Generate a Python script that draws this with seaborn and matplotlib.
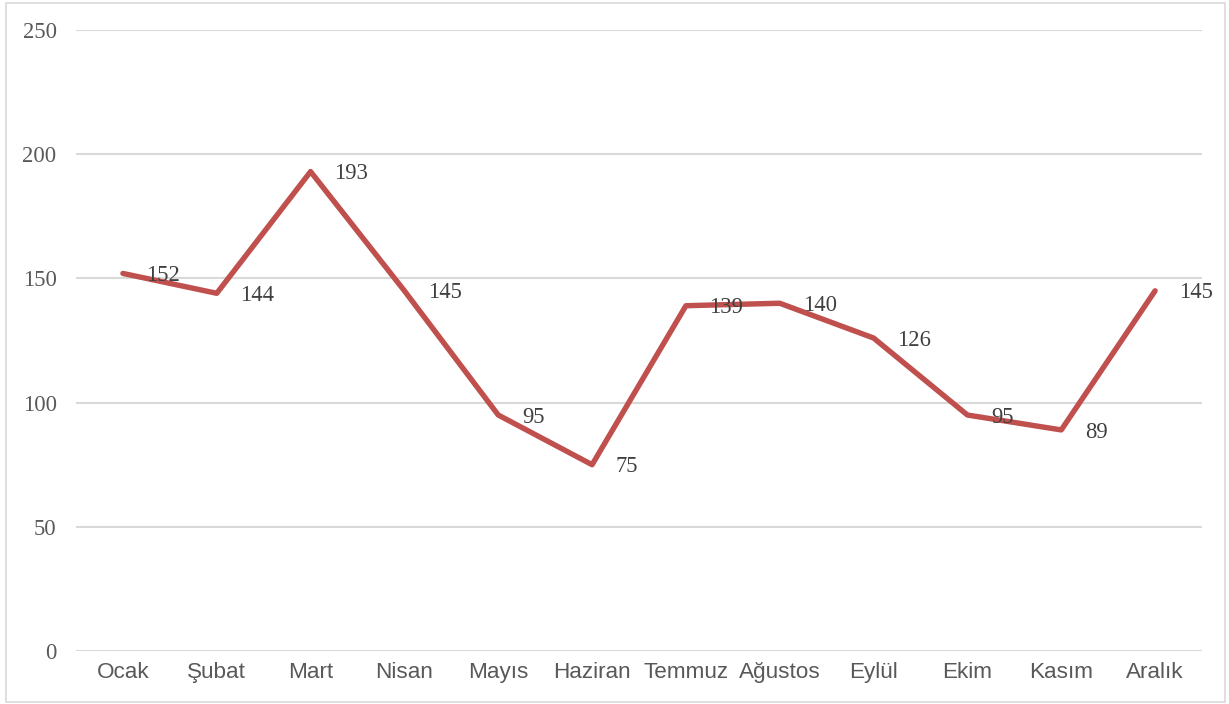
import matplotlib
matplotlib.use("Agg")
import matplotlib.pyplot as plt
import seaborn as sns
import pandas as pd
from matplotlib.patches import Rectangle

months = ['Ocak', 'Şubat', 'Mart', 'Nisan', 'Mayıs', 'Haziran',
          'Temmuz', 'Ağustos', 'Eylül', 'Ekim', 'Kasım', 'Aralık']
values = [152, 144, 193, 145, 95, 75, 139, 140, 126, 95, 89, 145]
yticks = [0, 50, 100, 150, 200, 250]

df = pd.DataFrame({'ay': months, 'deger': values})

sns.set_style("white")
plt.rcParams['font.family'] = ['Liberation Serif', 'DejaVu Serif']

fig = plt.figure(figsize=(12.29, 7.04), dpi=100)
ax = fig.add_axes([76 / 1229, 53 / 704, 1126 / 1229, 621 / 704])

ax.set_axisbelow(True)
for t in yticks:
    ax.axhline(t, color='#d9d9d9', lw=1.5, zorder=0)

sns.lineplot(data=df, x='ay', y='deger', sort=False, color='#c0504d',
             linewidth=3.9, ax=ax, zorder=3)

# data labels to the right of each point
for i, v in enumerate(values):
    ax.annotate(str(v), (i, v), xytext=(17, -1.5), textcoords='offset points',
                ha='left', va='center', fontsize=16.3, color='#404040',
                family=['Liberation Serif'], zorder=4)

ax.set_xlim(-0.5, len(months) - 0.5)
ax.set_ylim(0, 250)
ax.set_yticks(yticks)
ax.set_xticks(range(len(months)))
ax.set_xticklabels(months, family=['Liberation Sans'], fontsize=16.2, color='#595959')
ax.set_yticklabels([str(t) for t in yticks], family=['Liberation Serif'],
                   fontsize=16.3, color='#595959')
ax.tick_params(axis='y', length=0, pad=14)
ax.tick_params(axis='x', length=0, pad=8)
ax.set_xlabel('')
ax.set_ylabel('')
sns.despine(ax=ax, left=True, bottom=True)

# outer chart border
fig.patches.append(Rectangle((6 / 1229, 2 / 704), 1219 / 1229, 699 / 704,
                             transform=fig.transFigure, fill=False,
                             edgecolor='#d9d9d9', lw=1.2))

fig.savefig('out.png', dpi=100)
